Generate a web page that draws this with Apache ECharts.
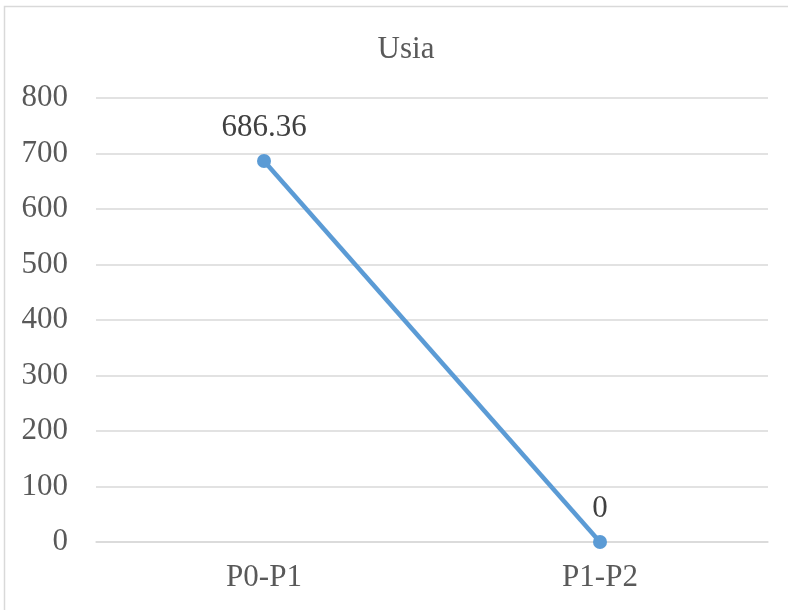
<!DOCTYPE html>
<html>
<head>
<meta charset="utf-8">
<script src="https://cdn.jsdelivr.net/npm/echarts@6/dist/echarts.min.js"></script>
<style>
html,body{margin:0;padding:0;background:#fff;}
#c{width:788px;height:610px;}
</style>
</head>
<body>
<div id="c"></div>
<script>
var titleText = 'Usia';
var categories = ['P0-P1', 'P1-P2'];
var values = [686.36, 0];
var yTicks = {min: 0, max: 800, interval: 100};

var font = 'Liberation Serif, Times New Roman, serif';
var chart = echarts.init(document.getElementById('c'));
chart.setOption({
  animation: false,
  backgroundColor: '#fff',
  graphic: [{
    type: 'rect',
    shape: {x: 4.5, y: 6.5, width: 900, height: 800},
    style: {fill: 'none', stroke: '#d9d9d9', lineWidth: 1.5},
    silent: true
  }],
  title: {
    text: titleText,
    left: 401, top: 29,
    textAlign: 'center',
    textStyle: {fontFamily: font, fontSize: 31, fontWeight: 'normal', color: '#595959'}
  },
  grid: {left: 96, right: 20, top: 98, bottom: 68, containLabel: false},
  xAxis: {
    type: 'category',
    data: categories,
    boundaryGap: true,
    axisLine: {lineStyle: {color: '#d9d9d9', width: 1.5}},
    axisTick: {show: false},
    axisLabel: {fontFamily: font, fontSize: 31, color: '#595959', margin: 20}
  },
  yAxis: {
    type: 'value',
    min: yTicks.min, max: yTicks.max, interval: yTicks.interval,
    axisLine: {show: false},
    axisTick: {show: false},
    splitLine: {lineStyle: {color: '#d9d9d9', width: 1.5}},
    axisLabel: {fontFamily: font, fontSize: 31, color: '#595959', margin: 28}
  },
  series: [{
    type: 'line',
    data: values,
    symbol: 'circle',
    symbolSize: 14,
    lineStyle: {color: '#5b9bd5', width: 4.5},
    itemStyle: {color: '#5b9bd5'},
    label: {
      show: true, position: 'top', distance: 11,
      fontFamily: font, fontSize: 31, color: '#404040'
    }
  }]
});
</script>
</body>
</html>
